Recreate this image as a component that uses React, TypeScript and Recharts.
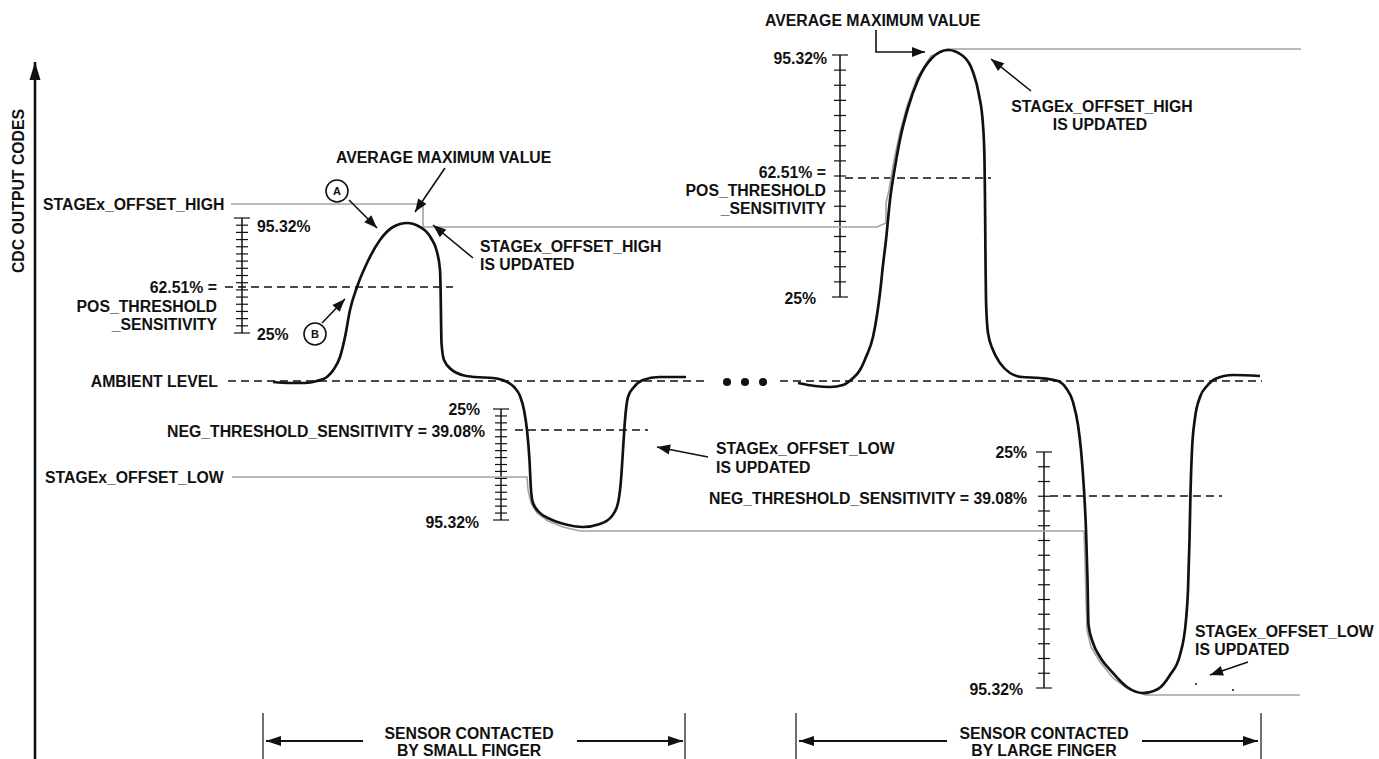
import { ComposedChart, Line, Scatter, XAxis, YAxis, ReferenceLine, ReferenceDot } from "recharts"

const W = 1379
const H = 759
const FONT = '"Liberation Sans", Arial, Helvetica, sans-serif'
const INK = "#111"
const GRAY = "#a3a3a3"

// diagram units: x runs 0..1379 left to right, y runs 0..759 top to bottom

// CDC output for the small finger touch, then the large finger touch
const smallTouch = [
  [273, 382], [290, 383], [305, 383], [317, 381], [327, 377], [334, 369], [340, 357], [345, 337],
  [350, 310], [357, 287], [367, 263], [380, 240], [393, 227], [407, 223], [420, 227], [431, 238],
  [437, 252], [440, 270], [440.6, 290], [441, 317], [441.5, 343], [444, 360], [452, 370], [462, 375],
  [475, 377], [493, 378], [505, 381], [514, 387], [520, 396], [524, 410], [527, 430], [529.5, 460],
  [531, 490], [533, 503], [539, 512], [550, 519], [564, 524], [583, 527], [600, 524], [612, 516],
  [618, 503], [621, 480], [623, 450], [625, 420], [628, 397], [634, 387], [643, 380], [659, 377],
  [686, 377],
]
const largeTouch = [
  [798, 383], [815, 386], [830, 387], [843, 385], [852, 379], [860, 370], [866, 357], [873, 337],
  [877, 315], [880, 293], [883, 265], [886, 240], [890, 200], [895, 167], [901, 135], [908, 108],
  [918, 80], [932, 58], [948, 50], [963, 56], [973, 72], [979, 95], [983, 125], [984.5, 160],
  [985, 200], [985.5, 260], [986, 300], [988, 333], [993, 350], [1000, 363], [1010, 373], [1022, 377],
  [1040, 378], [1058, 381], [1066, 388], [1073, 402], [1078, 425], [1081, 450], [1084, 490], [1086, 530],
  [1087.5, 580], [1088.5, 625], [1093, 643], [1100, 657], [1113, 673], [1127, 687], [1143, 693], [1158, 689],
  [1170, 675], [1180, 655], [1186, 620], [1188, 590], [1189.5, 540], [1190.5, 493], [1192, 450], [1195, 418],
  [1200, 397], [1207, 386], [1215, 379], [1233, 375], [1260, 376],
]

// STAGEx_OFFSET_HIGH / _LOW tracking levels (gray)
const offsetHigh = [
  [231, 204], [423, 204], [423, 227], [877, 227], [886, 223], [886, 203], [889, 190], [894, 160],
  [900, 132], [907, 106], [917, 78], [931, 56], [947, 49], [1301, 49],
]
const offsetLow = [
  [232, 477], [527, 477], [528, 490], [531, 503], [537, 513], [548, 521], [563, 527], [580, 531],
  [1084, 531], [1085, 560], [1086, 600], [1087, 630], [1091, 647], [1100, 662], [1113, 678], [1128, 689],
  [1145, 695], [1300, 695],
]

// dashed levels: [x1, x2, y]
const dashed = [
  [228, 705, 381], [780, 1262, 381],
  [225, 453, 287], [845, 991, 178],
  [515, 648, 430], [1050, 1222, 496],
]

// percentage rulers: [x, top, bottom]
const rulers = [
  [242, 218, 333],
  [840, 55, 297],
  [501, 409, 520],
  [1044, 452, 688],
]
const rulerSteps = [0, 1, 2, 3, 4, 5, 6, 7, 8, 9, 10, 11, 12, 13, 14, 15, 16]

// callout arrows (tip is the last point)
const callouts = [
  [[349, 200], [377, 228]],
  [[322, 323], [345, 299]],
  [[445, 168], [415, 212]],
  [[473, 258], [433, 225]],
  [[708, 457], [657, 447]],
  [[876, 30], [876, 52], [925, 52]],
  [[1031, 91], [991, 59]],
  [[1248, 662], [1210, 675]],
]
const spans = [
  [[363, 741], [266, 741]],
  [[577, 741], [683, 741]],
  [[947, 741], [799, 741]],
  [[1142, 741], [1258, 741]],
]
const spanBars = [263, 685, 796, 1261]
const axisArrow = [[35, 759], [35, 62]]

const markers = [
  { x: 337, y: 191, text: "A" },
  { x: 315, y: 334, text: "B" },
]
const ellipsis = [727, 745, 763]
const specks = [[1196, 684], [1233, 690]]

const labels = [
  { text: "CDC OUTPUT CODES", x: 18, y: 191, anchor: "middle", rotate: -90 },
  { text: "STAGEx_OFFSET_HIGH", x: 43, y: 204, anchor: "start" },
  { text: "AVERAGE MAXIMUM VALUE", x: 336, y: 157, anchor: "start" },
  { text: "95.32%", x: 257, y: 226, anchor: "start" },
  { text: "62.51% =", x: 217, y: 287, anchor: "end" },
  { text: "POS_THRESHOLD", x: 217, y: 306, anchor: "end" },
  { text: "_SENSITIVITY", x: 217, y: 324, anchor: "end" },
  { text: "25%", x: 257, y: 334, anchor: "start" },
  { text: "STAGEx_OFFSET_HIGH", x: 480, y: 246, anchor: "start" },
  { text: "IS UPDATED", x: 480, y: 264, anchor: "start" },
  { text: "AMBIENT LEVEL", x: 218, y: 381, anchor: "end" },
  { text: "25%", x: 480, y: 409, anchor: "end" },
  { text: "NEG_THRESHOLD_SENSITIVITY = 39.08%", x: 485, y: 431, anchor: "end" },
  { text: "STAGEx_OFFSET_LOW", x: 45, y: 477, anchor: "start" },
  { text: "95.32%", x: 479, y: 522, anchor: "end" },
  { text: "STAGEx_OFFSET_LOW", x: 716, y: 448, anchor: "start" },
  { text: "IS UPDATED", x: 716, y: 467, anchor: "start" },
  { text: "AVERAGE MAXIMUM VALUE", x: 765, y: 20, anchor: "start" },
  { text: "95.32%", x: 827, y: 58, anchor: "end" },
  { text: "62.51% =", x: 826, y: 172, anchor: "end" },
  { text: "POS_THRESHOLD", x: 826, y: 190, anchor: "end" },
  { text: "_SENSITIVITY", x: 826, y: 208, anchor: "end" },
  { text: "25%", x: 816, y: 298, anchor: "end" },
  { text: "STAGEx_OFFSET_HIGH", x: 1102, y: 106, anchor: "middle" },
  { text: "IS UPDATED", x: 1100, y: 124, anchor: "middle" },
  { text: "25%", x: 1027, y: 452, anchor: "end" },
  { text: "NEG_THRESHOLD_SENSITIVITY = 39.08%", x: 1027, y: 498, anchor: "end" },
  { text: "95.32%", x: 1023, y: 689, anchor: "end" },
  { text: "STAGEx_OFFSET_LOW", x: 1195, y: 631, anchor: "start" },
  { text: "IS UPDATED", x: 1195, y: 649, anchor: "start" },
  { text: "SENSOR CONTACTED", x: 469, y: 733, anchor: "middle" },
  { text: "BY SMALL FINGER", x: 469, y: 750, anchor: "middle" },
  { text: "SENSOR CONTACTED", x: 1044, y: 733, anchor: "middle" },
  { text: "BY LARGE FINGER", x: 1044, y: 750, anchor: "middle" },
]

const toPoints = (a: number[][]) => a.map(([x, y]) => ({ x, y }))

// arrowhead drawn as the dot of the last point; x/y scales are 1:1 so data direction = screen direction
const arrowHead = (path: number[][], len: number, half: number) => (p: any) => {
  const n = path.length
  if (p.index !== n - 1) return <g key={`a-${p.index}`} />
  const [x0, y0] = path[n - 2]
  const [x1, y1] = path[n - 1]
  const d = Math.hypot(x1 - x0, y1 - y0)
  const ux = (x1 - x0) / d
  const uy = (y1 - y0) / d
  const bx = p.cx - ux * len
  const by = p.cy - uy * len
  return (
    <polygon
      key={`a-${p.index}`}
      points={`${p.cx},${p.cy} ${bx - uy * half},${by + ux * half} ${bx + uy * half},${by - ux * half}`}
      fill={INK}
    />
  )
}

const LabelShape = (p: any) => {
  const d = p.payload
  return (
    <text
      x={p.cx}
      y={p.cy}
      textAnchor={d.anchor}
      dominantBaseline="central"
      fontFamily={FONT}
      fontWeight={700}
      fontSize={15.8}
      fill={INK}
      transform={d.rotate ? `rotate(${d.rotate} ${p.cx} ${p.cy})` : undefined}
    >
      {d.text}
    </text>
  )
}

export default function App() {
  return (
    <div style={{ position: "absolute", left: 0, top: 0, width: W, height: H, background: "#fff" }}>
      <ComposedChart width={W} height={H} margin={{ top: 0, right: 0, bottom: 0, left: 0 }}>
        <XAxis type="number" dataKey="x" domain={[0, W]} hide allowDataOverflow />
        <YAxis type="number" dataKey="y" domain={[0, H]} reversed hide allowDataOverflow />

        {dashed.map(([x1, x2, y], i) => (
          <ReferenceLine
            key={`d${i}`}
            segment={[{ x: x1, y }, { x: x2, y }]}
            stroke={INK}
            strokeWidth={1.3}
            strokeDasharray="8 5"
            ifOverflow="visible"
          />
        ))}

        {rulers.map(([x, top, bottom], r) => [
          <ReferenceLine
            key={`rs${r}`}
            segment={[{ x, y: top }, { x, y: bottom }]}
            stroke={INK}
            strokeWidth={1.5}
            ifOverflow="visible"
          />,
          ...rulerSteps.map((s) => {
            const y = top + ((bottom - top) * s) / 16
            const half = s === 0 || s === 16 ? 8 : 6
            return (
              <ReferenceLine
                key={`rt${r}-${s}`}
                segment={[{ x: x - half, y }, { x: x + half, y }]}
                stroke={INK}
                strokeWidth={1.2}
                ifOverflow="visible"
              />
            )
          }),
        ])}

        {spanBars.map((x, i) => (
          <ReferenceLine
            key={`b${i}`}
            segment={[{ x, y: 713 }, { x, y: H }]}
            stroke={INK}
            strokeWidth={1.2}
            ifOverflow="visible"
          />
        ))}

        <Line data={toPoints(offsetHigh)} dataKey="y" type="linear" stroke={GRAY} strokeWidth={1.6} dot={false} activeDot={false} isAnimationActive={false} />
        <Line data={toPoints(offsetLow)} dataKey="y" type="linear" stroke={GRAY} strokeWidth={1.6} dot={false} activeDot={false} isAnimationActive={false} />

        <Line data={toPoints(smallTouch)} dataKey="y" type="monotone" stroke={INK} strokeWidth={2.7} dot={false} activeDot={false} isAnimationActive={false} />
        <Line data={toPoints(largeTouch)} dataKey="y" type="monotone" stroke={INK} strokeWidth={2.7} dot={false} activeDot={false} isAnimationActive={false} />

        {callouts.map((path, i) => (
          <Line
            key={`c${i}`}
            data={toPoints(path)}
            dataKey="y"
            type="linear"
            stroke={INK}
            strokeWidth={1.6}
            dot={arrowHead(path, 13, 5)}
            activeDot={false}
            isAnimationActive={false}
          />
        ))}
        {spans.map((path, i) => (
          <Line
            key={`s${i}`}
            data={toPoints(path)}
            dataKey="y"
            type="linear"
            stroke={INK}
            strokeWidth={2}
            dot={arrowHead(path, 15, 5)}
            activeDot={false}
            isAnimationActive={false}
          />
        ))}
        <Line
          data={toPoints(axisArrow)}
          dataKey="y"
          type="linear"
          stroke={INK}
          strokeWidth={2.6}
          dot={arrowHead(axisArrow, 18, 5.5)}
          activeDot={false}
          isAnimationActive={false}
        />

        {ellipsis.map((x) => (
          <ReferenceDot key={`e${x}`} x={x} y={382} r={4} fill={INK} stroke="none" ifOverflow="visible" />
        ))}
        {specks.map(([x, y]) => (
          <ReferenceDot key={`p${x}`} x={x} y={y} r={1} fill={INK} stroke="none" ifOverflow="visible" />
        ))}
        {markers.map((m) => (
          <ReferenceDot
            key={m.text}
            x={m.x}
            y={m.y}
            r={11}
            fill="#fff"
            stroke={INK}
            strokeWidth={1.6}
            ifOverflow="visible"
            label={{ value: m.text, position: "center", fontFamily: FONT, fontWeight: 700, fontSize: 11, fill: INK }}
          />
        ))}

        <Scatter data={labels} dataKey="y" shape={LabelShape} isAnimationActive={false} />
      </ComposedChart>
    </div>
  )
}
